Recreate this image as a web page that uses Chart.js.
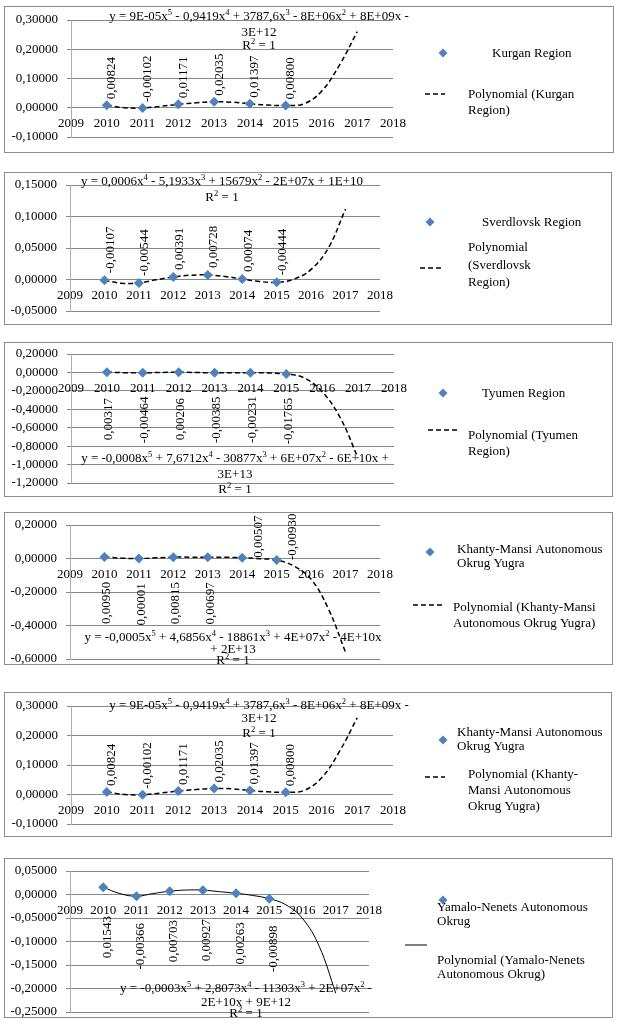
<!DOCTYPE html>
<html>
<head>
<meta charset="utf-8">
<script src="https://cdn.jsdelivr.net/npm/chart.js@4.4.1/dist/chart.umd.min.js"></script>
<style>
  body { margin: 0; background: #fff; width: 620px; height: 1030px; position: relative; overflow: hidden; }
  .panel { position: absolute; left: 4px; border: 1px solid #8c8c8c; background: #fff; }
  .panel canvas { display: block; }
</style>
</head>
<body>
<div class="panel" style="top:6px"><canvas id="c1" width="608" height="145"></canvas></div>
<div class="panel" style="top:172px"><canvas id="c2" width="606" height="151"></canvas></div>
<div class="panel" style="top:342px"><canvas id="c3" width="607" height="153"></canvas></div>
<div class="panel" style="top:512px"><canvas id="c4" width="607" height="151"></canvas></div>
<div class="panel" style="top:692px"><canvas id="c5" width="606" height="143"></canvas></div>
<div class="panel" style="top:858px"><canvas id="c6" width="607" height="158"></canvas></div>
<script>
'use strict'

// observed values
var years = [2010, 2011, 2012, 2013, 2014, 2015];
var kurgan = [0.00824, -0.00102, 0.01171, 0.02035, 0.01397, 0.00800];
var sverdlovsk = [-0.00107, -0.00544, 0.00391, 0.00728, 0.00074, -0.00444];
var tyumen = [0.00317, -0.00464, 0.00206, -0.00385, -0.00231, -0.01765];
var khantyMansi = [0.00950, 0.00001, 0.00815, 0.00697, 0.00507, -0.00930];
var yamaloNenets = [0.01543, -0.00366, 0.00703, 0.00927, 0.00263, -0.00898];

// trend lines
var trendYears = [2010, 2010.5, 2011, 2011.5, 2012, 2012.5, 2013, 2013.5, 2014, 2014.5, 2015, 2015.5, 2016, 2016.5, 2017];
var kurganTrend = [0.0082, 0.0000, -0.0010, 0.0050, 0.0117, 0.0170, 0.0204, 0.0190, 0.0140, 0.0090, 0.0080, 0.0130, 0.0560, 0.1450, 0.2600];
var sverdlovskTrend = [-0.0011, -0.0060, -0.0054, -0.0005, 0.0039, 0.0068, 0.0073, 0.0048, 0.0007, -0.0032, -0.0044, 0.0005, 0.0160, 0.0500, 0.1120];
var tyumenTrend = [0.0032, -0.0030, -0.0046, 0.0000, 0.0021, -0.0010, -0.0039, -0.0030, -0.0023, -0.0060, -0.0177, -0.0600, -0.2100, -0.4900, -0.9300];
var khantyMansiTrend = [0.0095, 0.0020, 0.0000, 0.0040, 0.0082, 0.0080, 0.0070, 0.0070, 0.0051, -0.0010, -0.0093, -0.0450, -0.1240, -0.3000, -0.5600];
var yamaloNenetsTrend = [0.0154, 0.0020, -0.0037, 0.0020, 0.0070, 0.0095, 0.0093, 0.0060, 0.0026, -0.0020, -0.0090, -0.0220, -0.0510, -0.1100, -0.2100];

// tick labels
var xTicks = [2009, 2010, 2011, 2012, 2013, 2014, 2015, 2016, 2017, 2018];
var kurganYTicks = [-0.1, 0, 0.1, 0.2, 0.3];
var sverdlovskYTicks = [-0.05, 0, 0.05, 0.1, 0.15];
var tyumenYTicks = [-1.2, -1.0, -0.8, -0.6, -0.4, -0.2, 0, 0.2];
var khantyMansiYTicks = [-0.6, -0.4, -0.2, 0, 0.2];
var yamaloNenetsYTicks = [-0.25, -0.2, -0.15, -0.1, -0.05, 0, 0.05];

var SERIF = "'Liberation Serif', 'Times New Roman', serif";
var FONT = '13px ' + SERIF;
var SUP = '8.5px ' + SERIF;
var BLUE = '#4f81bd';
var GRID = '#868686';

function fmt(v) {
  if (Math.abs(v) < 1e-9) v = 0;
  return v.toFixed(5).replace('.', ',');
}

function richLine(ctx, str, cx, cy) {
  let parts = str.split(/\^(\d)/), w = 0;
  parts.forEach((s, i) => { ctx.font = i % 2 ? SUP : FONT; w += ctx.measureText(s).width; });
  let x = cx - w / 2;
  parts.forEach((s, i) => {
    ctx.font = i % 2 ? SUP : FONT;
    ctx.fillText(s, x, i % 2 ? cy - 4 : cy);
    x += ctx.measureText(s).width;
  });
}

function diamond(ctx, x, y, r) {
  ctx.beginPath();
  ctx.moveTo(x, y - r); ctx.lineTo(x + r, y); ctx.lineTo(x, y + r); ctx.lineTo(x - r, y);
  ctx.closePath();
  ctx.fillStyle = BLUE;
  ctx.fill();
}

var decor = {
  id: 'decor',
  afterDatasetsDraw(chart, args, opts) {
    let p = opts.panel, ctx = chart.ctx;
    ctx.save();
    ctx.fillStyle = '#000';
    ctx.font = FONT;
    ctx.textBaseline = 'middle';
    // data labels
    chart.getDatasetMeta(0).data.forEach((pt, i) => {
      let side = p.labelSide[i], o = p.labelOff[side];
      ctx.save();
      ctx.translate(pt.x + o.dx, pt.y + o.dy);
      ctx.rotate(-Math.PI / 2);
      ctx.textAlign = side == 'up' ? 'left' : 'center';
      ctx.fillText(fmt(p.values[i]), 0, 0);
      ctx.restore();
    });
    // trendline equation
    ctx.textAlign = 'left';
    p.eq.forEach((line, i) => richLine(ctx, line, p.eqX, p.eqY[i]));
    // legend
    for(let it of p.legend) {
      if(it.kind == 'point') diamond(ctx, it.x, it.y, 4.5);
      else if(it.kind == 'line') {
        ctx.save();
        ctx.strokeStyle = '#000';
        ctx.lineWidth = p.dash ? 1.5 : 1;
        ctx.setLineDash(p.dash ? [5, 3] : []);
        ctx.beginPath(); ctx.moveTo(it.x1, it.y); ctx.lineTo(it.x2, it.y); ctx.stroke();
        ctx.restore();
      } else {
        ctx.fillStyle = '#000';
        ctx.font = FONT;
        it.lines.forEach((t, i) => ctx.fillText(t, it.x, it.y + i * it.lh));
      }
    }
    ctx.restore();
  }
};

var panels = [
  {
    id: 'c1', w: 608, h: 145, area: {l: 66, r: 388, t: 13, b: 130},
    values: kurgan, trend: kurganTrend, yTicks: kurganYTicks, dash: true,
    labelSide: ['up', 'up', 'up', 'up', 'up', 'up'],
    labelOff: {up: {dx: 5, dy: -6}},
    eq: ['y = 9E-05x^5 - 0,9419x^4 + 3787,6x^3 - 8E+06x^2 + 8E+09x -', '3E+12', 'R^2 = 1'],
    eqX: 254, eqY: [10, 26, 39],
    legend: [
      {kind: 'point', x: 438, y: 46},
      {kind: 'text', x: 487, y: 47, lh: 16, lines: ['Kurgan Region']},
      {kind: 'line', x1: 420, x2: 440, y: 87},
      {kind: 'text', x: 463, y: 88, lh: 16, lines: ['Polynomial (Kurgan', 'Region)']}
    ]
  },
  {
    id: 'c2', w: 606, h: 151, area: {l: 65, r: 375, t: 12, b: 138},
    values: sverdlovsk, trend: sverdlovskTrend, yTicks: sverdlovskYTicks, dash: true,
    labelSide: ['up', 'up', 'up', 'up', 'up', 'up'],
    labelOff: {up: {dx: 6, dy: -7}},
    eq: ['y = 0,0006x^4 - 5,1933x^3 + 15679x^2 - 2E+07x + 1E+10', 'R^2 = 1'],
    eqX: 217, eqY: [9, 25],
    legend: [
      {kind: 'point', x: 425, y: 49},
      {kind: 'text', x: 477, y: 50, lh: 17, lines: ['Sverdlovsk Region']},
      {kind: 'line', x1: 415, x2: 437, y: 95},
      {kind: 'text', x: 463, y: 75, lh: 17.5, lines: ['Polynomial', '(Sverdlovsk', 'Region)']}
    ]
  },
  {
    id: 'c3', w: 607, h: 153, area: {l: 66, r: 389, t: 11, b: 140},
    values: tyumen, trend: tyumenTrend, yTicks: tyumenYTicks, dash: true,
    labelSide: ['down', 'down', 'down', 'down', 'down', 'down'],
    labelOff: {down: {dx: 2, dy: 47}},
    eq: ['y = -0,0008x^5 + 7,6712x^4 - 30877x^3 + 6E+07x^2 - 6E+10x +', '3E+13', 'R^2 = 1'],
    eqX: 230, eqY: [116, 132, 147],
    legend: [
      {kind: 'point', x: 438, y: 50},
      {kind: 'text', x: 477, y: 51, lh: 16, lines: ['Tyumen Region']},
      {kind: 'line', x1: 423, x2: 452, y: 87},
      {kind: 'text', x: 463, y: 93, lh: 16, lines: ['Polynomial (Tyumen', 'Region)']}
    ]
  },
  {
    id: 'c4', w: 607, h: 151, area: {l: 65, r: 375, t: 12, b: 146},
    values: khantyMansi, trend: khantyMansiTrend, yTicks: khantyMansiYTicks, dash: true,
    labelSide: ['down', 'down', 'down', 'down', 'up', 'up'],
    labelOff: {down: {dx: 2.5, dy: 46}, up: {dx: 16, dy: 0}},
    eq: ['y = -0,0005x^5 + 4,6856x^4 - 18861x^3 + 4E+07x^2 - 4E+10x', '+ 2E+13', 'R^2 = 1'],
    eqX: 228, eqY: [125, 137, 148],
    legend: [
      {kind: 'point', x: 425, y: 39},
      {kind: 'text', x: 452, y: 37, lh: 14, lines: ['Khanty-Mansi Autonomous', 'Okrug Yugra']},
      {kind: 'line', x1: 408, x2: 437, y: 92},
      {kind: 'text', x: 448, y: 95, lh: 16, lines: ['Polynomial (Khanty-Mansi', 'Autonomous Okrug Yugra)']}
    ]
  },
  {
    id: 'c5', w: 606, h: 143, area: {l: 66, r: 388, t: 13, b: 131},
    values: kurgan, trend: kurganTrend, yTicks: kurganYTicks, dash: true,
    labelSide: ['up', 'up', 'up', 'up', 'up', 'up'],
    labelOff: {up: {dx: 5, dy: -6}},
    eq: ['y = 9E-05x^5 - 0,9419x^4 + 3787,6x^3 - 8E+06x^2 + 8E+09x -', '3E+12', 'R^2 = 1'],
    eqX: 254, eqY: [13, 26, 41],
    legend: [
      {kind: 'point', x: 438, y: 47},
      {kind: 'text', x: 452, y: 40, lh: 14, lines: ['Khanty-Mansi Autonomous', 'Okrug Yugra']},
      {kind: 'line', x1: 420, x2: 440, y: 84},
      {kind: 'text', x: 463, y: 82, lh: 16, lines: ['Polynomial (Khanty-', 'Mansi Autonomous', 'Okrug Yugra)']}
    ]
  },
  {
    id: 'c6', w: 607, h: 158, area: {l: 65, r: 364, t: 12, b: 153},
    values: yamaloNenets, trend: yamaloNenetsTrend, yTicks: yamaloNenetsYTicks, dash: false,
    labelSide: ['down', 'down', 'down', 'down', 'down', 'down'],
    labelOff: {down: {dx: 4, dy: 50}},
    eq: ['y = -0,0003x^5 + 2,8073x^4 - 11303x^3 + 2E+07x^2 -', '2E+10x + 9E+12', 'R^2 = 1'],
    eqX: 241, eqY: [130, 144, 155],
    legend: [
      {kind: 'point', x: 438, y: 41},
      {kind: 'text', x: 432, y: 49, lh: 14, lines: ['Yamalo-Nenets Autonomous', 'Okrug']},
      {kind: 'line', x1: 400, x2: 422, y: 86},
      {kind: 'text', x: 432, y: 102, lh: 14, lines: ['Polynomial (Yamalo-Nenets', 'Autonomous Okrug)']}
    ]
  }
];

Chart.defaults.font.family = SERIF;
Chart.defaults.font.size = 13;
Chart.defaults.color = '#000';

for(let p of panels) {
  let a = p.area, yt = p.yTicks;
  new Chart(document.getElementById(p.id), {
    type: 'scatter',
    data: {
      datasets: [
        {
          data: years.map((x, i) => ({x: x, y: p.values[i]})),
          pointStyle: 'rectRot',
          pointRadius: 5,
          backgroundColor: BLUE,
          borderColor: BLUE,
          borderWidth: 0
        },
        {
          data: trendYears.map((x, i) => ({x: x, y: p.trend[i]})),
          showLine: true,
          pointRadius: 0,
          borderColor: '#000',
          borderWidth: p.dash ? 1.5 : 1,
          borderDash: p.dash ? [5, 3] : [],
          tension: 0.4,
          fill: false
        }
      ]
    },
    options: {
      responsive: false,
      animation: false,
      events: [],
      layout: { padding: { left: 0, top: a.t, right: p.w - a.r, bottom: p.h - a.b } },
      plugins: {
        legend: { display: false },
        tooltip: { enabled: false },
        decor: { panel: p }
      },
      scales: {
        x: {
          type: 'linear',
          min: xTicks[0],
          max: xTicks[xTicks.length - 1],
          position: { y: 0 },
          afterFit: (s) => { s.height = 0; s.paddingLeft = 0; s.paddingRight = 0; },
          grid: { display: false, drawTicks: false },
          border: { display: false },
          ticks: { stepSize: 1, autoSkip: false, maxRotation: 0, padding: 8, color: '#000', font: { size: 13 }, callback: (v) => String(v) }
        },
        y: {
          min: yt[0],
          max: yt[yt.length - 1],
          afterFit: (s) => { s.width = a.l; s.paddingTop = 0; s.paddingBottom = 0; },
          grid: { color: GRID, tickLength: 4 },
          border: { display: true, color: '#b0b0b0' },
          ticks: { stepSize: yt[1] - yt[0], autoSkip: false, padding: 9, color: '#000', font: { size: 13 }, callback: (v) => fmt(v) }
        }
      }
    },
    plugins: [decor]
  });
}
</script>
</body>
</html>
